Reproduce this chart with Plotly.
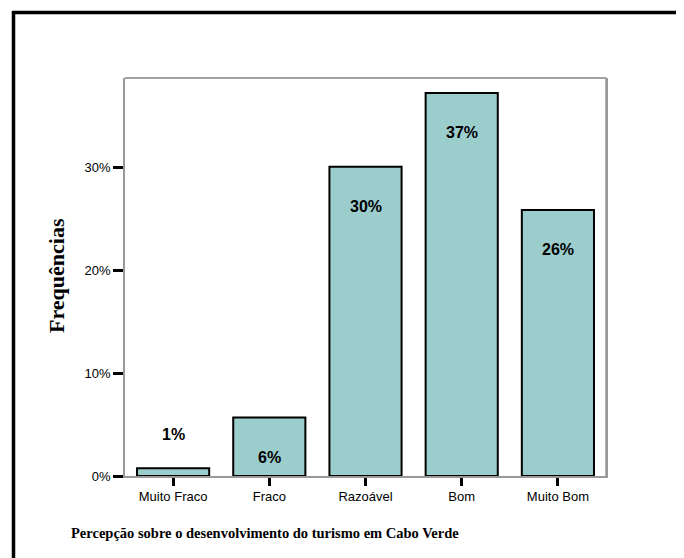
import plotly.graph_objects as go

categories = ["Muito Fraco", "Fraco", "Razoável", "Bom", "Muito Bom"]
values = [0.75, 5.7, 30.1, 37.3, 25.9]
y_ticks = [0, 10, 20, 30]
y_tick_labels = ["0%", "10%", "20%", "30%"]
y_title = "Frequências"
x_title = "Percepção sobre o desenvolvimento do turismo em Cabo Verde"

OFF = 8  # page body margin
W, H = 684 - OFF, 558 - OFF
L, R, T, B = 125 - OFF, 606 - OFF, 78 - OFF, 476 - OFF
YMAX = 38.75
px_per_unit = (B - T) / YMAX

def px_x(px):
    return (px - OFF - L) / (R - L)

def px_y(py):
    return (B - (py - OFF)) / (B - T)

fig = go.Figure()
fig.add_trace(go.Bar(
    x=categories, y=values,
    marker=dict(color="#9BCDCD", line=dict(color="#000000", width=2)),
    width=0.75,
    hoverinfo="skip",
))

for c, v in zip(categories, values):
    inside = v * px_per_unit > 50
    fig.add_annotation(
        x=c, y=v, xref="x", yref="y",
        text=f"<b>{round(v)}%</b>", showarrow=False,
        yshift=-40 if inside else 34,
        font=dict(family="Liberation Sans, Arial", size=16, color="#000"),
    )

# y title
fig.add_annotation(
    x=px_x(56), y=px_y(276), xref="paper", yref="paper",
    text=f"<b>{y_title}</b>", textangle=-90, showarrow=False,
    xanchor="center", yanchor="middle",
    font=dict(family="Liberation Serif, Times New Roman", size=22, color="#000"),
)
# x title
fig.add_annotation(
    x=px_x(69), y=px_y(533), xref="paper", yref="paper",
    text=f"<b>{x_title}</b>", showarrow=False,
    xanchor="left", yanchor="middle",
    font=dict(family="Liberation Serif, Times New Roman", size=14.5, color="#000"),
)

# outer frame (top and left)
fig.add_shape(type="line", xref="paper", yref="paper",
              x0=px_x(12), x1=px_x(700), y0=px_y(12.5), y1=px_y(12.5),
              line=dict(color="#000", width=3.5))
fig.add_shape(type="line", xref="paper", yref="paper",
              x0=px_x(13.5), x1=px_x(13.5), y0=px_y(11), y1=px_y(600),
              line=dict(color="#000", width=3.5))
# top border of plot area
fig.add_shape(type="line", xref="paper", yref="paper",
              x0=0, x1=1, y0=1, y1=1,
              line=dict(color="#444", width=1.2))

fig.update_layout(
    width=W, height=H,
    margin=dict(l=L, r=W - R, t=T, b=H - B),
    paper_bgcolor="white", plot_bgcolor="white",
    showlegend=False,
    bargap=0.25,
    xaxis=dict(
        showline=True, linecolor="#999", linewidth=1.5, mirror=False,
        ticks="outside", ticklen=8, tickwidth=3, tickcolor="#000",
        tickfont=dict(family="Liberation Sans, Arial", size=13, color="#000"),
        showgrid=False, zeroline=False, fixedrange=True,
    ),
    yaxis=dict(
        range=[0, YMAX],
        tickvals=y_ticks, ticktext=y_tick_labels,
        showline=True, linecolor="#999", linewidth=1.5, mirror=True,
        ticks="outside", ticklen=10, tickwidth=3, tickcolor="#000",
        tickfont=dict(family="Liberation Sans, Arial", size=13, color="#000"),
        showgrid=False, zeroline=False, fixedrange=True,
    ),
)
fig.add_shape(type="line", xref="paper", yref="paper",
              x0=1, x1=1, y0=0, y1=1,
              line=dict(color="#999", width=1.5))

fig.write_html("out.html")
